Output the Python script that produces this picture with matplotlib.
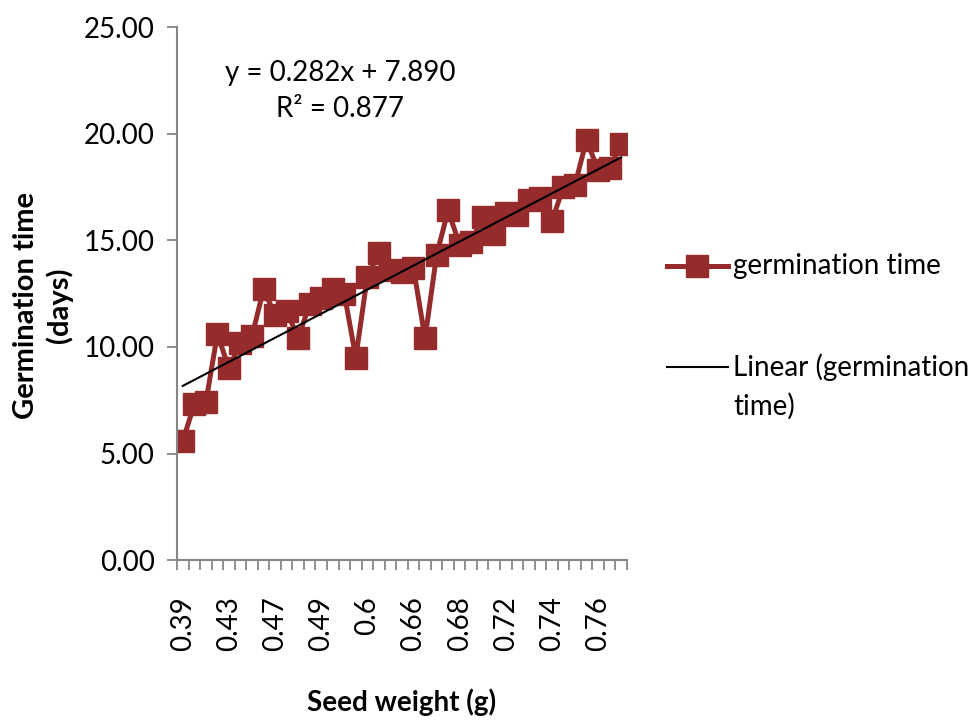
import matplotlib
matplotlib.use("Agg")
import matplotlib.pyplot as plt
from matplotlib.lines import Line2D
import numpy as np

plt.rcParams['font.family'] = ['Lato', 'DejaVu Sans']

# germination time (days) for each seed weight category
germ_time = [5.6, 7.3, 7.4, 10.6, 9.0, 10.2, 10.5, 12.7, 11.5, 11.7,
             10.4, 12.0, 12.3, 12.7, 12.5, 9.5, 13.3, 14.4, 13.6, 13.5,
             13.7, 10.4, 14.3, 16.4, 14.8, 14.9, 16.1, 15.3, 16.3, 16.2,
             16.9, 17.0, 15.9, 17.5, 17.6, 19.7, 18.3, 18.4, 19.5]
# only every 4th category is labelled on the axis
shown_labels = ['0.39', '0.43', '0.47', '0.49', '0.6', '0.66', '0.68', '0.72', '0.74', '0.76']
label_step = 4
# Excel linear trendline (x = category index 1..n)
slope = 0.282
intercept = 7.890
r_squared = 0.877

red = '#962b2b'
grey = '#868686'
fs = 20

fig = plt.figure(figsize=(9.78, 7.2), dpi=100)
ax = fig.add_axes([0.181, 0.222, 0.46, 0.7405])

x = np.arange(1, len(germ_time) + 1)
ax.plot(x, germ_time, color=red, lw=3.6, marker='s', ms=16.5, zorder=2)
trend = slope * x + intercept
ax.plot(x, trend, color='black', lw=1.5, zorder=3)

ax.set_xlim(0.5, len(germ_time) + 0.5)
ax.set_ylim(0, 25)
ax.set_yticks(np.arange(0, 26, 5))
ax.set_yticklabels(['%.2f' % v for v in np.arange(0, 26, 5)])

# tick marks between categories, labels on every 4th category
ax.set_xticks(np.arange(0.5, len(germ_time) + 1, 1))
ax.set_xticklabels([])
ax.set_xticks(np.arange(1, len(germ_time) + 1, label_step), minor=True)
ax.set_xticklabels(shown_labels, minor=True, rotation=90)
ax.tick_params(axis='x', which='major', length=7, width=1.3, color=grey, direction='out')
ax.tick_params(axis='x', which='minor', length=0, pad=26, labelsize=fs)
ax.tick_params(axis='y', length=7, width=1.3, color=grey, pad=9, labelsize=fs)

for s in ['top', 'right']:
    ax.spines[s].set_visible(False)
for s in ['left', 'bottom']:
    ax.spines[s].set_color(grey)
    ax.spines[s].set_linewidth(1.5)

ax.set_xlabel('Seed weight (g)', fontsize=fs, fontweight='bold')
ax.xaxis.set_label_coords(0.5, -0.24)
ax.set_ylabel('Germination time\n(days)', fontsize=fs + 1, fontweight='bold', linespacing=1.25)
ax.yaxis.set_label_coords(-0.232, 0.478)

ax.text(0.362, 0.88, 'y = %.3fx + %.3f\nR² = %.3f' % (slope, intercept, r_squared),
        transform=ax.transAxes, ha='center', va='center', fontsize=fs,
        multialignment='center', linespacing=1.5)

# legend drawn by hand, Excel style
fig.add_artist(Line2D([0.682, 0.744], [0.6306, 0.6306], transform=fig.transFigure,
                      color=red, lw=3.6))
fig.add_artist(Line2D([0.713], [0.6306], transform=fig.transFigure,
                      color=red, marker='s', ms=16.5, lw=0))
fig.text(0.7495, 0.6306, 'germination time', fontsize=fs, va='center', ha='left')
fig.add_artist(Line2D([0.682, 0.744], [0.4903, 0.4903], transform=fig.transFigure,
                      color='black', lw=1.5))
fig.text(0.7495, 0.4903, 'Linear (germination', fontsize=fs, va='center', ha='left')
fig.text(0.7495, 0.436, 'time)', fontsize=fs, va='center', ha='left')

fig.savefig('out.png', dpi=100)
